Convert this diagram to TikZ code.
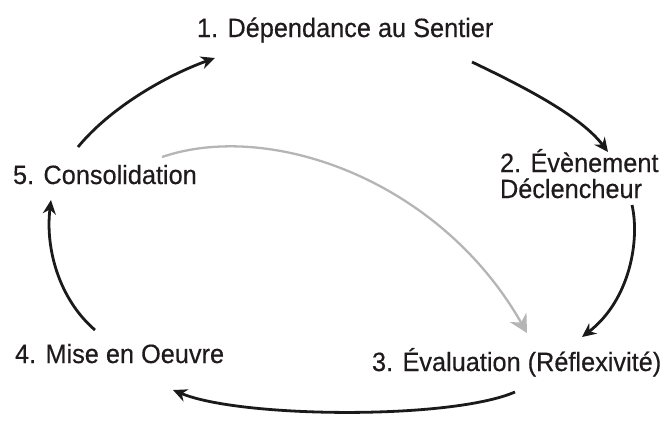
\documentclass[tikz,border=0pt]{standalone}
\usepackage{fontspec}
\setmainfont[FakeStretch=0.955,FakeBold=0.4]{Liberation Sans}
\usetikzlibrary{arrows.meta}
\definecolor{txt}{HTML}{1F1B1C}
\definecolor{ink}{HTML}{1A1A1A}
\definecolor{greyarrow}{HTML}{B5B5B5}
\tikzset{
  lbl/.style={inner sep=0pt, outer sep=0pt, text=txt, font=\fontsize{26.5}{26}\selectfont, anchor=base west},
  cyc/.style={draw=ink, line width=2.8pt, -{Stealth[length=14pt,width=13pt,inset=4.5pt]}},
  back/.style={draw=greyarrow, line width=2.3pt, -{Stealth[length=18pt,width=19pt,inset=6pt]}}
}
\begin{document}
\begin{tikzpicture}[x=1pt,y=-1pt]
\useasboundingbox (0,0) rectangle (660,421);
\node[lbl] (n1) at (197,37) {1. Dépendance au Sentier};
\node[lbl] (n2a) at (500,172) {2. Évènement};
\node[lbl] (n2b) at (500,198) {Déclencheur};
\node[lbl] (n3) at (372,371) {3. Évaluation (Réflexivité)};
\node[lbl] (n4) at (15,363) {4. Mise en Oeuvre};
\node[lbl] (n5) at (13,184) {5. Consolidation};
\draw[cyc] ([xshift=65pt,yshift=37pt]n5.base west) .. controls (110,108) and (165,76) .. ([xshift=18pt,yshift=-21pt]n1.base west);
\draw[cyc] ([xshift=275pt,yshift=-25pt]n1.base west) .. controls (520,85) and (580,115) .. ([xshift=108pt,yshift=20pt]n2a.base west);
\draw[cyc] ([xshift=132pt,yshift=-7pt]n2b.base west) .. controls (640,240) and (630,300) .. ([xshift=210pt,yshift=34pt]n3.base west);
\draw[cyc] ([xshift=143pt,yshift=-21pt]n3.base west) .. controls (450,420) and (240,418) .. ([xshift=158pt,yshift=-27pt]n4.base west);
\draw[cyc] ([xshift=80pt,yshift=33pt]n4.base west) .. controls (60,300) and (45,250) .. ([xshift=38pt,yshift=-16pt]n5.base west);
\draw[back] ([xshift=149pt,yshift=27pt]n5.base west) .. controls (270,120) and (440,180) .. ([xshift=155pt,yshift=38pt]n3.base west);
\end{tikzpicture}
\end{document}
